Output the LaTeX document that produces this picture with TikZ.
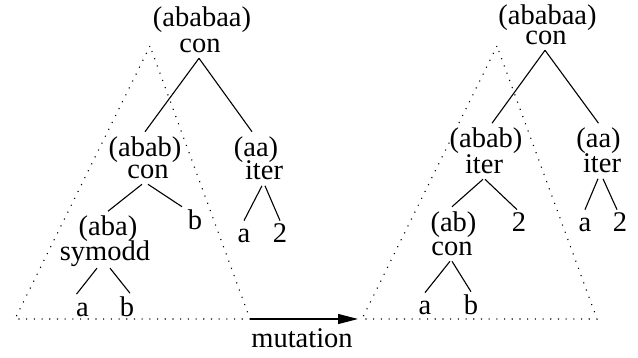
\documentclass[tikz,border=0pt]{standalone}
\usepackage{fontspec}
\setmainfont{Liberation Serif}
\usetikzlibrary{arrows.meta}
\begin{document}
\begin{tikzpicture}[x=1pt,y=-1pt,
  txt/.style={anchor=base,inner sep=0pt,outer xsep=0pt,font=\fontsize{28.5}{30}\selectfont},
  lbl/.style={txt,outer ysep=5pt},        % bracketed word above an operator
  op/.style={txt,outer ysep=5.5pt},       % operator name
  leafx/.style={txt,outer ysep=9pt},      % leaf of x-height only
  leafh/.style={txt,outer ysep=3.5pt},    % leaf with ascender or digit
  edge/.style={line width=1.1pt},
  region/.style={line width=1.1pt,dash pattern=on 1.1pt off 6.6pt},
  mutarrow/.style={line width=1.1pt,-{Triangle[length=20pt,width=10pt]},shorten >=4pt}]
\useasboundingbox (0,0) rectangle (638,358);

% ---------- original tree ----------
\node[lbl]   (L0l) at (202,27)    {(ababaa)};
\node[op]    (L0)  at (200,52.5)  {con};
\node[lbl]   (L1l) at (145,156.5) {(abab)};
\node[op]    (L1)  at (148,178.5) {con};
\node[lbl]   (L2l) at (256,156.5) {(aa)};
\node[op]    (L2)  at (264,180)   {iter};
\node[lbl]   (L3l) at (108,236)   {(aba)};
\node[op,outer ysep=1pt] (L3) at (105,261) {symodd};
\node[leafh] (L4)  at (195,230)   {b};
\node[leafx] (L5)  at (82.5,316.5){a};
\node[leafh] (L6)  at (127,316.5) {b};
\node[leafx] (L7)  at (244,243)   {a};
\node[leafh] (L8)  at (280,243)   {2};

\draw[edge] ([xshift=-1pt]L0.south) -- (L1l.north);
\draw[edge] ([xshift=-1pt]L0.south) -- ([xshift=-4pt]L2l.north);
\draw[edge] ([xshift=-6pt]L1.south) -- (L3l.north);
\draw[edge] (L1.south) -- ([xshift=-13pt]L4.north);
\draw[edge] ([xshift=-2pt]L2.south) -- (L7.north);
\draw[edge] ([xshift=1pt]L2.south) -- (L8.north);
\draw[edge] ([xshift=-8pt]L3.south) -- ([xshift=-6pt]L5.north);
\draw[edge] ([xshift=5pt]L3.south) -- ([xshift=3pt]L6.north);

% ---------- mutated tree ----------
\node[lbl]   (R0l) at (547.5,25)  {(ababaa)};
\node[op]    (R0)  at (546,44.5)  {con};
\node[lbl]   (R1l) at (486,148)   {(abab)};
\node[op]    (R1)  at (484,173.5) {iter};
\node[lbl]   (R2l) at (598.5,148) {(aa)};
\node[op]    (R2)  at (602,173)   {iter};
\node[lbl]   (R3l) at (453.5,231.5){(ab)};
\node[op]    (R3)  at (452,255.5) {con};
\node[leafh] (R4)  at (519,232)   {2};
\node[leafx] (R5)  at (425,315)   {a};
\node[leafh] (R6)  at (471,315)   {b};
\node[leafx] (R7)  at (585,232)   {a};
\node[leafh] (R8)  at (620,232)   {2};

\draw[edge] ([xshift=-1pt]R0.south) -- ([xshift=6pt]R1l.north);
\draw[edge] ([xshift=-1pt]R0.south) -- (R2l.north);
\draw[edge] ([xshift=-1pt]R1.south) -- ([xshift=-1.5pt]R3l.north);
\draw[edge] ([xshift=1pt]R1.south) -- ([xshift=-2pt]R4.north);
\draw[edge] ([xshift=-4pt]R2.south) -- (R7.north);
\draw[edge] ([xshift=1pt]R2.south) -- ([xshift=-3pt]R8.north);
\draw[edge] ([xshift=-2pt]R3.south) -- (R5.north);
\draw[edge] (R3.south) -- (R6.north);

% ---------- dotted subtree regions ----------
\coordinate (LA) at (150,46);
\coordinate (LB) at (15,319);
\coordinate (LC) at (250,319);
\coordinate (RA) at (497,46);
\coordinate (RB) at (362,319);
\coordinate (RC) at (597,319);
\draw[region] (LA) -- (LB) -- (LC) -- cycle;
\draw[region] (RA) -- (RB) -- (RC) -- cycle;

% ---------- mutation arrow ----------
\draw[mutarrow] (LC) -- (RB);
\node[txt] (mutlabel) at (302,348) {mutation};
\end{tikzpicture}
\end{document}
